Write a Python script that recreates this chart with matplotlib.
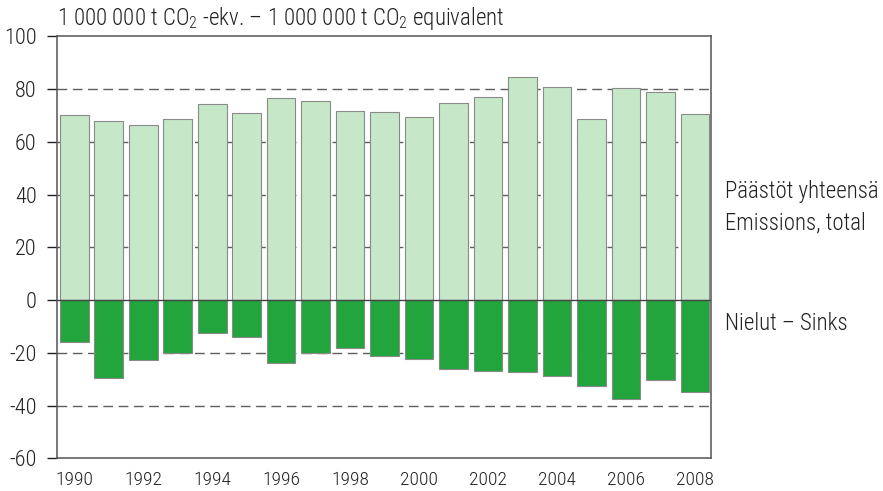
import matplotlib
matplotlib.use("Agg")
import matplotlib.pyplot as plt
from matplotlib import font_manager as fm

FONT = "DejaVu Sans"
for cand in ["Roboto Condensed", "Archivo Narrow", "Liberation Sans Narrow", "Asap Condensed"]:
    try:
        fm.findfont(cand, fallback_to_default=False)
        FONT = cand
        break
    except Exception:
        pass
plt.rcParams['font.family'] = [FONT, 'DejaVu Sans']
plt.rcParams['font.weight'] = 'light'
plt.rcParams['mathtext.fontset'] = 'custom'
plt.rcParams['mathtext.rm'] = FONT + ':light'
plt.rcParams['mathtext.it'] = FONT + ':light'

years = list(range(1990, 2009))
emissions = [70.2, 68.0, 66.5, 68.7, 74.3, 70.9, 76.8, 75.5, 71.8, 71.2,
             69.4, 74.6, 76.9, 84.5, 80.7, 68.8, 80.6, 78.8, 70.6]
sinks = [-15.9, -29.5, -22.8, -20.0, -12.6, -13.9, -23.8, -20.0, -18.2, -21.1,
         -22.3, -26.2, -26.7, -27.1, -28.8, -32.6, -37.5, -30.3, -35.0]
xtick_years = list(range(1990, 2009, 2))
yticks = [-60, -40, -20, 0, 20, 40, 60, 80, 100]
gridlevels = [-40, -20, 20, 40, 60, 80]

title = r"1 000 000 t CO$_2$ -ekv. – 1 000 000 t CO$_2$ equivalent"
label_em_fi = "Päästöt yhteensä"
label_em_en = "Emissions, total"
label_sink = "Nielut – Sinks"

fig = plt.figure(figsize=(8.83, 4.91), dpi=100)
ax = fig.add_axes([0.0642, 0.0666, 0.805 - 0.0642, 0.9257 - 0.0666])

x = list(range(len(years)))
for lv in gridlevels:
    ax.axhline(lv, color='#5e5e5e', lw=1.0, ls=(0, (7, 4)), zorder=0)

ax.bar(x, emissions, width=0.83, color='#c6e8c8', edgecolor='#8a8a8a', linewidth=0.8, zorder=2)
ax.bar(x, sinks, width=0.83, color='#21a53c', edgecolor='#8a8a8a', linewidth=0.8, zorder=2)
ax.axhline(0, color='#444444', lw=1.0, zorder=3)

ax.set_xlim(-0.51, 18.46)
ax.set_ylim(-60, 100)
ax.set_yticks(yticks)
ax.set_yticklabels([str(v) for v in yticks], fontsize=16)
ax.set_xticks([years.index(y) for y in xtick_years])
ax.set_xticklabels([str(y) for y in xtick_years], fontsize=14)
ax.tick_params(axis='x', length=0, pad=9, colors='#222222')
ax.tick_params(axis='y', length=7.5, width=1.0, direction='out', pad=7, colors='#222222')
for s in ax.spines.values():
    s.set_color('#555555')
    s.set_linewidth(1.1)

fig.text(57 / 883, 1 - 25 / 491, title, fontsize=16.5, color='#222222', va='baseline', ha='left')
fig.text(725 / 883, 1 - 198 / 491, label_em_fi, fontsize=16.5, color='#222222', va='baseline', ha='left')
fig.text(725 / 883, 1 - 230 / 491, label_em_en, fontsize=16.5, color='#222222', va='baseline', ha='left')
fig.text(725 / 883, 1 - 330 / 491, label_sink, fontsize=16.5, color='#222222', va='baseline', ha='left')

fig.savefig("out.png", dpi=100)
